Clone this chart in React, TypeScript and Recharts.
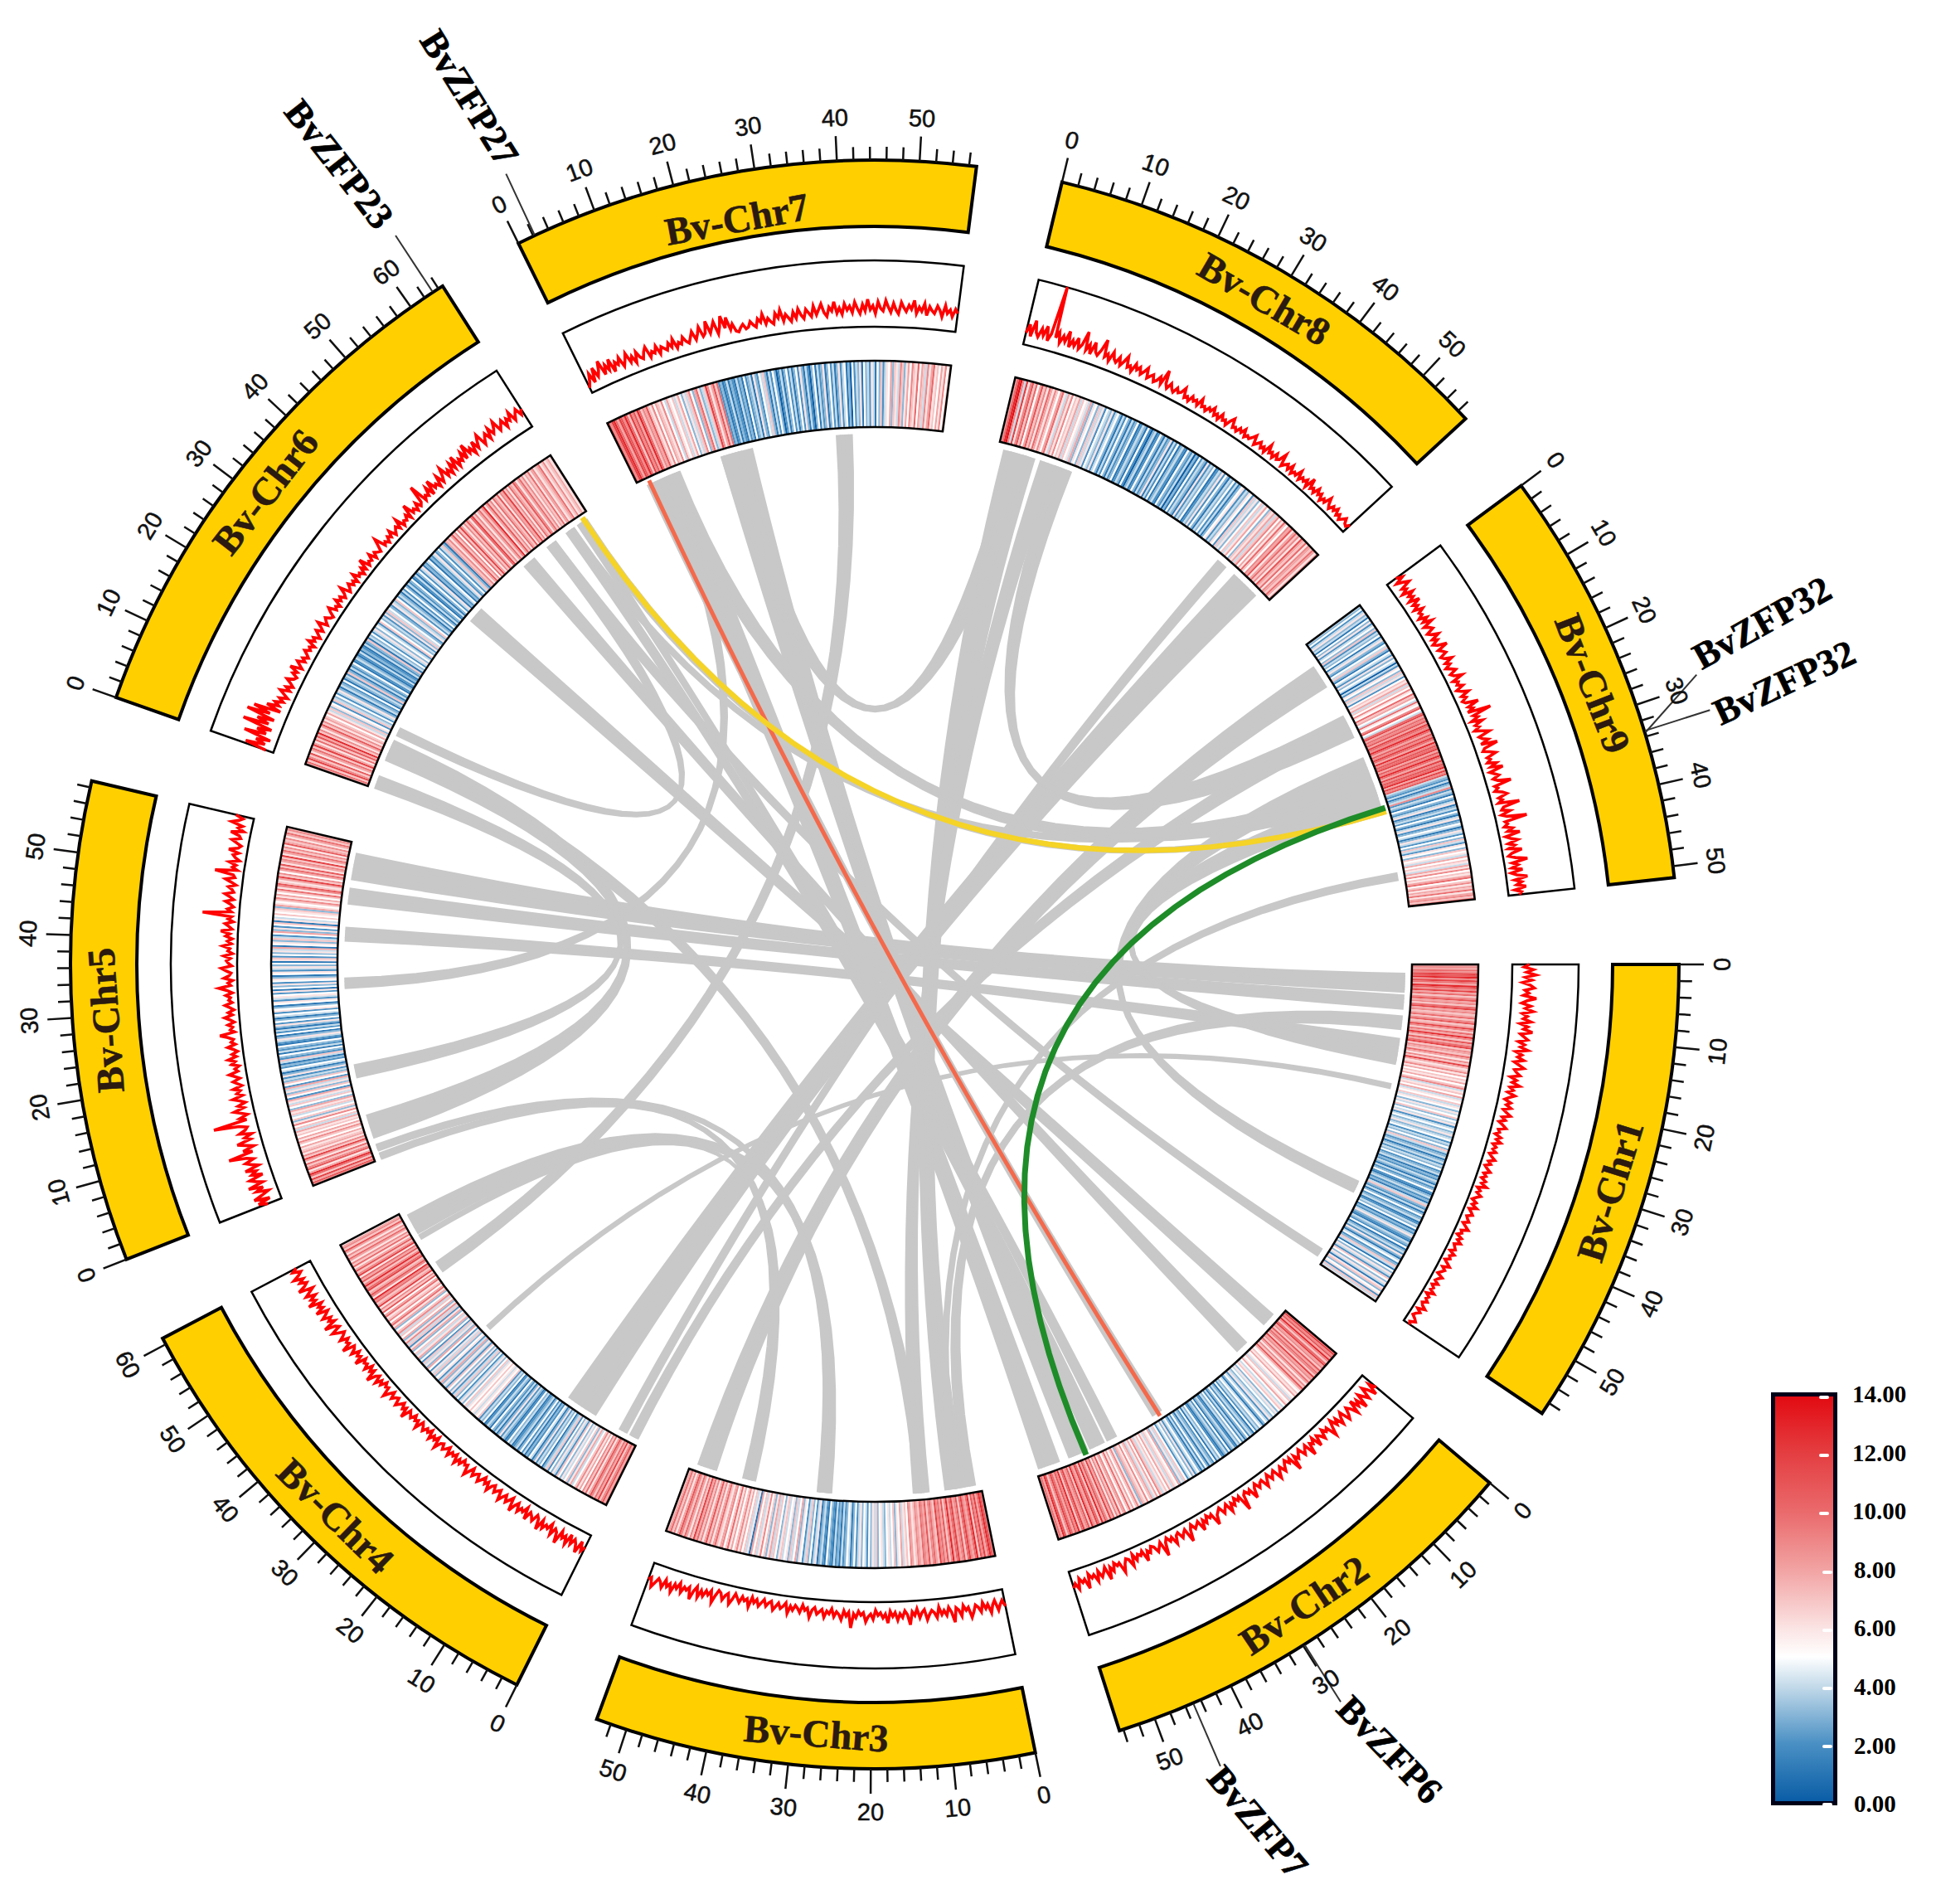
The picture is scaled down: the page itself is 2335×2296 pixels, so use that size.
import React from 'react'
import { PieChart, Pie, Cell, ComposedChart, Line, Scatter, XAxis, YAxis } from 'recharts'

// Circos plot of the beet genome: ideogram, density line, heat ring, links.
const W = 2335
const H = 2296
const CX = 1055
const CY = 1163

const chromNames = ['Bv-Chr1', 'Bv-Chr2', 'Bv-Chr3', 'Bv-Chr4', 'Bv-Chr5', 'Bv-Chr6', 'Bv-Chr7', 'Bv-Chr8', 'Bv-Chr9']
const chromLengths = [57.5, 54.5, 53.8, 60.8, 58.8, 64.6, 56.9, 57.3, 51.4]
const gapMb = 10.5

const heat1 = [8,9,8,10,9,12,11,13,9,12,10,8,13,11,9,12,8,10,7,9,11,8,9,7,10,12,8,9,7,8,10,7,9,11,7,8,12,9,7,10,8,13,9,7,11,8,10,12,7,9,8,7,10,8,6,9,7,12,8,6,7,9,6,8,5,7,6,8,5,7,9,4,6,7,5,8,4,6,5,7,4,6,5,3,6,4,5,7,3,5,4,6,2,4,5,3,4,6,3,4,5,2,4,3,5,3,7,4,2,3,4,1,3,4,2,4,3,5,2,3,4,1,3,2,4,3,1,4,2,3,5,2,1,3,4,2,3,1,4,7,3,2,4,1,3,5,2,3,4,1,2,4,3,5,1,3,2,4,6,3,2,1,4,3,2,5,1,3,4,2,6,3,1,4,5,2,3,7,4,1,5,3,6,4,2,7,5,3,6,4,1,6,7,3,5,6,2,7,4,6]
const heat2 = [10,12,9,11,8,13,9,7,10,12,8,9,7,11,8,10,9,7,12,8,9,7,10,8,6,9,7,11,8,6,5,7,6,8,5,6,4,7,5,6,8,5,4,6,7,5,3,6,4,5,3,4,6,2,4,5,3,1,4,5,3,4,2,5,1,3,4,2,5,3,1,4,2,5,3,4,1,2,4,3,1,5,2,4,3,1,2,5,3,4,1,5,2,3,4,1,3,5,2,4,1,3,5,4,2,6,3,5,4,2,5,7,4,6,3,8,5,6,7,4,6,8,5,7,6,4,7,9,5,8,6,4,8,7,5,9,6,7,8,3,6,9,7,5,8,6,10,7,5,9,8,6,11,7,9,6,10,8,12,7,9,11,8,13,7,10,12,8,9,13,7,11,9,8,12,10,7,13,9,11,8,10,12,9,7,11,13,8,10,9]
const heat3 = [9,11,13,10,8,12,9,11,7,13,10,8,9,12,10,7,11,9,8,12,10,8,13,9,7,11,8,10,9,12,7,8,10,9,7,11,8,9,10,7,8,9,7,6,8,9,5,7,6,4,8,5,6,3,7,5,4,6,5,3,4,6,5,3,7,4,6,3,5,2,4,5,3,6,4,2,5,3,1,4,5,3,2,4,1,3,2,4,1,2,3,5,1,2,4,3,1,6,4,2,5,3,7,4,2,5,6,3,8,5,4,7,3,6,5,4,7,6,3,5,7,4,8,6,3,7,5,9,6,4,7,5,8,1,6,4,7,5,8,6,9,7,5,8,6,10,7,5,9,8,6,7,10,8,6,9,7,11,8,6,9,7,10,8,12,7,9,6,8,10,7,9,11,8,6,9,7,10,8,7]
const heat4 = [10,8,11,9,7,12,8,10,7,9,11,8,6,10,7,9,5,8,6,9,7,5,4,8,6,3,7,5,4,6,3,5,7,2,4,6,3,5,2,7,4,3,1,5,3,4,2,6,3,1,4,5,2,3,1,4,2,5,3,1,4,3,2,1,4,3,5,2,1,3,4,2,6,3,1,4,2,3,5,1,3,4,2,1,5,3,4,2,7,5,6,4,6,5,7,5,6,4,7,5,3,6,4,2,5,3,7,4,2,6,3,5,7,2,4,6,3,8,4,2,6,5,3,7,4,6,2,5,8,3,6,4,7,2,5,3,8,6,4,7,5,3,8,6,2,7,4,9,6,3,8,5,7,4,9,7,5,3,8,6,10,8,5,9,7,6,10,8,5,11,7,9,6,12,8,7,10,9,13,6,9,11,8,7,12,10,8,13,9,7,11,8,10,6,12,9,7,11,8,6,10,7,9,6,8,10,7,9,6,8,11,7,9,8,6]
const heat5 = [9,11,8,12,7,10,13,8,6,11,9,7,10,6,8,12,7,9,6,8,7,6,8,5,7,9,6,8,5,7,6,8,4,7,5,9,6,3,7,5,4,7,6,8,3,5,7,4,6,8,2,5,7,3,6,4,8,2,5,7,3,4,2,6,3,1,4,5,2,3,1,4,7,2,3,5,1,4,2,3,5,1,2,4,6,3,1,5,2,4,1,3,6,2,5,3,1,4,5,2,6,5,3,1,5,6,2,4,6,5,2,6,1,5,3,6,2,5,6,3,1,5,6,2,4,6,3,5,1,6,7,2,5,3,6,4,8,1,5,6,3,7,4,2,5,8,3,6,2,5,7,1,6,4,5,7,5,6,7,3,8,6,5,7,9,6,8,5,7,10,6,9,11,7,6,8,12,7,9,5,8,10,7,11,6,8,9,7,12,6,8,10,7,9,6,11,8,7,9,6,8,10,7,9,8]
const heat6 = [8,10,7,12,9,7,11,6,8,10,7,12,8,6,10,7,11,8,13,7,9,6,8,11,7,9,6,8,7,5,8,6,4,7,3,6,5,2,7,4,3,5,2,4,6,3,1,4,3,2,5,1,3,4,2,7,3,1,4,2,3,5,1,2,4,3,1,2,4,1,3,2,1,4,2,3,7,1,4,3,5,2,4,6,3,5,4,2,7,5,3,4,2,6,3,7,4,5,3,2,6,4,3,7,5,2,4,3,1,4,2,5,3,1,4,2,3,5,1,2,4,1,3,5,2,4,6,1,3,2,4,5,1,3,2,4,6,2,3,5,2,4,7,3,1,8,7,9,6,8,11,7,9,5,10,7,12,8,6,9,7,11,8,6,10,12,7,9,6,8,10,7,9,13,6,8,11,7,9,6,10,8,7,11,6,9,8,12,7,9,6,10,8,7,11,9,6,8,10,7,9,6,8,7,10,6,8,9,6,7,8,10,6,7,9,6,7,8,6,7]
const heat7 = [11,9,12,13,10,8,12,11,9,13,10,7,12,9,11,8,13,10,7,9,8,11,7,6,9,5,8,7,6,9,5,4,8,6,5,7,4,6,8,5,3,6,4,7,9,5,3,8,10,6,3,4,7,12,9,6,8,11,7,10,2,3,1,2,4,1,3,2,1,4,2,3,1,5,2,3,4,1,6,3,2,5,4,7,3,1,4,2,5,3,0,2,4,1,3,5,2,4,1,3,5,2,6,3,1,4,2,0,3,5,1,4,2,3,6,1,3,5,2,4,1,3,6,2,4,5,1,3,0,5,2,4,3,6,1,5,3,4,2,6,4,1,5,3,7,2,4,6,5,8,3,7,6,4,9,7,3,6,8,5,9,7,6,10,5,8,7,4,9,6,8,10,6,7,5,8,6,9,5,7]
const heat8 = [8,10,13,14,9,4,12,6,9,11,7,10,5,8,11,7,9,6,10,8,6,9,7,5,8,10,6,4,8,6,9,5,7,6,8,4,7,5,6,4,8,3,6,5,3,7,4,6,2,5,4,3,6,2,4,5,3,1,4,2,5,3,1,4,2,3,5,1,2,4,3,1,5,2,0,3,4,1,2,5,3,1,4,2,3,6,1,4,2,5,1,3,4,2,1,5,3,2,4,0,3,1,5,2,4,3,1,6,2,4,3,5,1,2,4,3,6,2,5,3,1,4,3,5,2,4,1,3,5,6,2,4,3,6,5,2,7,4,6,3,5,7,4,6,8,5,3,7,6,8,4,7,9,5,8,6,10,7,5,9,8,11,6,8,10,7,9,6,11,8,7,10,6,9,8,7,10,8,6,9]
const heat9 = [4,3,5,2,4,6,3,4,1,5,3,6,2,4,5,3,7,2,4,3,5,1,4,6,3,2,5,4,7,3,1,5,4,2,6,3,5,4,0,4,2,6,5,3,7,4,6,2,5,7,6,8,4,7,5,9,6,5,10,7,8,5,4,10,6,5,9,11,5,4,10,12,8,10,9,11,8,12,10,9,13,10,8,11,9,12,10,8,13,9,11,10,12,8,11,9,13,10,8,12,9,11,10,13,8,12,9,11,4,3,2,4,1,3,4,9,2,4,3,1,5,3,2,4,6,1,3,4,2,5,3,1,4,6,2,3,5,4,1,3,6,4,2,5,3,7,4,2,6,5,3,7,5,6,4,8,5,7,6,4,8,6,9,5,7,6,8,10,5,7,9,6,8,7,10,6,8,9,7,10]
const heatValues = [heat1, heat2, heat3, heat4, heat5, heat6, heat7, heat8, heat9]

const dens1 = [24,16,30,20,34,18,28,14,26,32,18,24,16,36,22,14,28,20,32,16,24,18,30,14,26,20,34,16,22,28,14,24,18,30,12,22,16,26,12,20,28,14,18,24,10,20,14,26,12,18,10,22,14,8,18,12,20,9,15,22,10,16,7,14,20,9,12,6,16,10,18,7,13,9,15,6,11,17,8,13,5,10,16,7,12,6,14,9,18,5,11,7,15,9,4,12,7,16,5,10,14,6,9,13,5,11,17,7,10,4,13,8,15,6,9,12,5,14,8,11,4,10,16,6,12,8,4,14,9,6,13,5,10,7,15,4,11,8,13,6,9,16,5,12,7,4,10,14,6,9]
const dens2 = [26,14,32,18,10,28,20,12,34,16,24,10,30,18,12,22,28,10,16,26,12,20,8,18,30,12,16,9,22,14,10,26,8,16,12,30,9,14,20,7,12,18,10,32,8,14,6,12,20,9,15,24,7,11,17,6,13,22,8,10,16,6,12,26,9,14,7,11,34,8,13,6,16,10,22,7,12,18,6,10,14,28,8,12,6,16,9,24,7,11,15,6,13,30,8,12,18,7,10,22,9,14,6,12,32,8,14,20,10,7,16,11,26,8,14,10,18,7,24,12,9,16,28,11,14,8,20,12,30,9,16,22,11,26,14,18,10,32,16,20,12,28,18,24]
const dens3 = [24,14,20,28,12,18,30,16,22,12,26,18,14,24,32,16,20,12,28,18,14,36,20,12,24,16,22,10,26,18,14,20,28,12,16,24,10,20,14,34,18,12,22,16,26,14,20,12,30,16,22,14,18,10,24,16,20,28,14,18,12,22,16,38,14,20,12,26,18,14,22,10,18,14,24,12,16,20,10,14,26,12,16,8,20,14,10,18,12,24,8,14,18,10,16,22,9,12,18,8,14,20,10,16,8,24,12,16,10,20,14,8,18,26,10,14,22,12,9,18,30,12,20,14,24,16,28,12,20,34,16,22,18,28,14,24,18,32,20,26,16,30,22,18,26,34,20,24]
const dens4 = [18,26,12,32,20,14,24,10,28,16,22,12,34,18,14,26,10,20,16,24,12,30,14,10,22,16,12,26,8,18,14,22,10,16,28,8,14,20,10,16,24,9,13,18,8,12,22,10,16,7,14,20,9,12,18,7,15,24,9,12,6,16,10,20,7,13,9,18,6,12,16,8,11,22,6,14,9,18,5,12,8,16,10,6,20,9,13,6,15,11,7,24,9,14,6,12,18,7,10,16,6,13,22,8,11,5,15,9,19,7,12,26,8,14,6,18,10,13,7,24,11,15,8,20,12,9,28,13,16,10,22,14,9,18,26,11,16,32,12,20,14,26,18,12,30,16,22,14,34,20,26,16,30,22,14,36,24,18,28,20,34,24,18,30,22]
const dens5 = [20,34,14,38,24,12,30,18,40,16,26,34,12,28,20,36,14,24,32,18,28,55,16,30,12,24,36,14,22,10,28,18,14,26,65,12,22,9,18,28,12,20,8,16,26,10,18,12,22,8,14,20,9,16,24,10,14,7,18,12,22,9,15,6,12,20,8,14,10,18,30,7,13,9,16,6,12,20,8,14,5,11,18,7,12,9,16,6,14,26,8,12,5,18,10,7,15,22,6,11,14,8,18,5,12,9,20,7,13,6,16,10,24,7,12,18,6,14,9,54,10,16,7,12,20,8,14,22,9,12,18,7,15,24,10,13,42,8,16,11,22,7,14,18,10,26,12,8,16,24,11,14,28,9,18,12,30,20,14,26]
const dens6 = [10,44,14,30,8,52,18,34,12,60,20,40,14,60,24,52,10,34,16,24,12,20,8,16,24,10,18,8,14,22,12,9,18,12,26,8,14,20,9,15,7,12,18,10,14,7,20,11,16,6,12,18,8,14,22,7,12,16,9,6,14,20,8,12,6,18,10,15,7,12,22,6,10,16,8,13,6,19,9,12,5,15,8,24,7,12,9,18,6,14,10,7,16,26,8,12,6,14,9,18,6,11,15,8,22,6,12,9,16,7,28,10,14,7,18,9,13,40,10,16,12,24,8,30,14,18,10,26,12,20,32,14,22,12,28,16,34,14,24,18,30,16,38,20,26,14,32,18,28,36,16,24,30,18,34,22,28,38,20,26,32,18,30,24,36,20,28,34,22,30]
const dens7 = [6,14,26,10,32,16,24,38,14,28,18,34,12,26,20,30,14,22,32,16,24,12,28,18,14,24,30,12,20,16,26,12,22,18,14,24,16,28,12,20,16,26,18,14,22,30,16,24,34,18,22,40,20,28,36,16,26,42,22,38,18,26,14,12,18,22,14,16,24,18,14,26,20,32,16,24,18,14,30,22,34,16,26,20,14,28,18,32,22,16,30,24,18,34,20,28,36,22,16,30,24,38,20,28,18,34,24,30,20,36,26,18,32,22,40,24,30,18,36,26,22,38,28,20,34,24,18,36,28,22,32,26,40,20,30,24,36,18,32,26,22,34,28,18,36,24,30,20,32,26]
const dens8 = [16,30,12,38,20,14,28,18,34,12,24,100,20,30,14,26,18,36,12,24,16,30,14,22,44,16,26,12,32,18,14,24,42,16,22,12,28,18,14,24,12,20,30,14,18,10,24,16,22,12,18,26,11,16,20,10,14,22,12,36,16,10,20,13,9,18,12,15,24,10,14,8,18,12,16,9,22,11,14,8,16,12,20,9,14,7,18,10,13,6,16,22,9,12,7,15,10,18,7,12,9,14,20,6,11,16,8,13,6,22,10,14,7,17,9,12,24,6,11,15,8,18,6,12,9,20,7,14,10,16,6,24,9,13,7,18,10,15,5,12,8,20,11,6,14,9,16,7,12,5,10,15,8,6,12]
const dens9 = [14,24,10,20,28,12,18,8,24,14,20,10,26,12,18,9,22,13,16,8,20,11,24,8,15,19,7,12,22,9,16,6,12,26,9,14,18,7,11,22,9,15,6,13,19,8,12,24,7,14,10,18,6,12,22,9,15,7,11,30,12,18,8,44,14,20,8,24,11,16,7,18,28,10,14,22,9,34,12,8,18,26,11,15,9,22,12,30,8,14,20,10,16,36,9,13,7,18,24,10,15,8,40,14,10,22,8,16,46,11,14,8,20,12,30,7,14,24,9,18,8,28,12,6,16,34,10,18,8,24,6,14,30,10,20,12,26,8,18,14]
const densValues = [dens1, dens2, dens3, dens4, dens5, dens6, dens7, dens8, dens9]

// chrA, startA, endA, chrB, startB, endB (Mb)
const greyLinks = [
  [1, 1.7, 5, 5, 52, 57],
  [1, 5.6, 8.2, 5, 47.5, 50.5],
  [1, 9.4, 12, 3, 1, 3],
  [1, 13.6, 16, 5, 40.7, 43.3],
  [1, 16, 18.3, 9, 29, 33],
  [1, 22, 23, 4, 34, 35],
  [1, 41, 43, 9, 23, 27],
  [1, 55, 56.5, 6, 55, 57],
  [2, 2, 4.5, 6, 35.5, 38.5],
  [2, 9, 11.5, 6, 49.5, 52],
  [2, 38.5, 40.5, 6, 62, 63],
  [2, 41, 44, 6, 59.5, 61],
  [2, 50, 54, 7, 3, 8],
  [2, 44.5, 48, 7, 16, 22],
  [2, 29, 31, 7, 1.5, 3.5],
  [3, 3, 6.5, 8, 1, 7],
  [3, 9.5, 12.5, 8, 8, 11],
  [3, 27.5, 30, 5, 1.7, 2.7],
  [3, 41.5, 44, 5, 0.1, 1],
  [3, 49, 52.5, 9, 4, 8.5],
  [3, 10, 12, 6, 6, 9],
  [3, 4, 5, 9, 45, 46.5],
  [3, 27.5, 30, 4, 56, 60],
  [3, 42, 43, 4, 54.8, 55.8],
  [4, 9, 15, 8, 49.5, 55],
  [4, 2.5, 4, 8, 45.5, 47.5],
  [4, 0.3, 1.7, 9, 15, 18],
  [4, 47.8, 49.8, 7, 37.5, 40.5],
  [5, 32, 34, 7, 4, 6],
  [5, 4, 8.5, 6, 5.5, 9.5],
  [5, 15.5, 18, 6, 0, 2.5],
  [6, 10.5, 12, 6, 55, 57],
  [6, 60, 61, 9, 28, 30],
  [6, 62.5, 64, 9, 33, 34],
  [7, 5, 8, 9, 27, 31],
  [7, 16, 20, 8, 2, 6],
  [8, 11, 14, 9, 14.5, 19],
]

// chrA, posA, chrB, posB, colour, width
const colorLinks: [number, number, number, number, string, number][] = [
  [7, 2.2, 2, 29.8, '#f4694b', 5],
  [6, 63.4, 9, 33.7, '#f5d327', 6.5],
  [2, 45, 9, 33, '#1e8c28', 7],
]

// label, chr, Mb at the ideogram, Mb at leader end, leader end radius, label x/y in page px, rotation
const geneLabels: [string, number, number, number, number, number, number, number][] = [
  ['BvZFP23', 6, 63.2, 63.2, 1052, 409, 198, 52],
  ['BvZFP27', 7, 2.2, 2.2, 1052, 566, 118, 58],
  ['BvZFP32', 9, 33.5, 29, 1051, 2125, 751, -29],
  ['BvZFP32', 9, 33.3, 33.2, 1053, 2152, 823, -25],
  ['BvZFP6', 2, 29.8, 29.8, 1052, 1676, 2110, 46],
  ['BvZFP7', 2, 45, 45, 1053, 1517, 2197, 50],
]

// where each ideogram name sits along its chromosome, and at what radius
const chromLabelMb = [29, 27.2, 26.9, 30.4, 29.4, 31.2, 26.8, 28.6, 25.7]
const chromLabelR = [928, 930, 930, 930, 930, 930, 914, 930, 930]

const legendLabels = ['14.00', '12.00', '10.00', '8.00', '6.00', '4.00', '2.00', '0.00']
const colorStops: [number, string][] = [
  [0, '#0a5da6'], [2, '#4a90c4'], [4, '#c5dbea'], [5, '#ffffff'], [6, '#fbe3e3'],
  [8, '#f2a3a3'], [10, '#ea6a6c'], [12, '#e43f42'], [14, '#e20b12'],
]

const hexToRgb = (h: string) => [1, 3, 5].map((i) => parseInt(h.slice(i, i + 2), 16))

function heatColor(v: number) {
  for (let i = 1; i < colorStops.length; i++) {
    const [v0, c0] = colorStops[i - 1]
    const [v1, c1] = colorStops[i]
    if (v <= v1) {
      const t = (v - v0) / (v1 - v0)
      const a = hexToRgb(c0)
      const b = hexToRgb(c1)
      return `rgb(${a.map((x, k) => Math.round(x + (b[k] - x) * t)).join(',')})`
    }
  }
  return colorStops[colorStops.length - 1][1]
}

const totalMb = chromLengths.reduce((s, v) => s + v + gapMb, 0)
const chromOffset = chromLengths.map((_, i) => chromLengths.slice(0, i).reduce((s, v) => s + v + gapMb, 0))
const angleOf = (chr: number, mb: number) => ((chromOffset[chr - 1] + mb) * 360) / totalMb
const polar = (chr: number, mb: number, r: number) => {
  const a = (angleOf(chr, mb) * Math.PI) / 180
  return { x: r * Math.cos(a), y: -r * Math.sin(a) }
}

// ring rows: one chromosome slice then one empty gap slice
const ringRows = chromLengths.flatMap((len, i) => [
  { name: chromNames[i], value: len, isGap: false },
  { name: `gap${i}`, value: gapMb, isGap: true },
])
const heatRows = chromLengths.flatMap((len, i) => [
  ...heatValues[i].map((v, k) => ({ name: `${i}-${k}`, value: len / heatValues[i].length, color: heatColor(v) })),
  { name: `gap${i}`, value: gapMb, color: 'none' },
])

const LINK_R = 640
const bezier = (a: { x: number; y: number }, b: { x: number; y: number }) => {
  const pts = []
  for (let i = 0; i <= 28; i++) {
    const t = i / 28
    const k = (1 - t) * (1 - t)
    const m = t * t
    pts.push({ x: k * a.x + m * b.x, y: k * a.y + m * b.y })
  }
  return pts
}

const MB_PX = (LINK_R * 0.59 * Math.PI) / 180
const greyStrands = greyLinks.flatMap((row, idx) => {
  const [ca, a1, a2, cb, b1, b2] = row
  const wide = Math.max(a2 - a1, b2 - b1) * MB_PX
  const n = Math.max(1, Math.ceil(wide / 5))
  const strands = []
  for (let j = 0; j < n; j++) {
    const t = (j + 0.5) / n
    strands.push({
      key: `l${idx}-${j}`,
      width: wide / n + 0.8,
      pts: bezier(polar(ca, a1 + (a2 - a1) * t, LINK_R), polar(cb, b2 - (b2 - b1) * t, LINK_R)),
    })
  }
  return strands
})

const majorTicks: any[] = []
const minorTicks: any[] = []
const tickLabels: any[] = []
chromLengths.forEach((len, i) => {
  const chr = i + 1
  for (let mb = 0; mb <= len; mb += 2) {
    const major = mb % 10 === 0
    const list = major ? majorTicks : minorTicks
    list.push(polar(chr, mb, 970), polar(chr, mb, major ? 1000 : 986), { x: null, y: null })
    if (major) {
      const theta = angleOf(chr, mb)
      const flip = chr >= 5
      tickLabels.push({ ...polar(chr, mb, 1022), text: String(mb), rot: flip ? theta + 90 : theta - 90 })
    }
  }
})

const chromLabels = chromNames.map((name, i) => {
  const theta = angleOf(i + 1, chromLabelMb[i])
  return { ...polar(i + 1, chromLabelMb[i], chromLabelR[i]), text: name, rot: i >= 4 ? theta + 90 : theta - 90 }
})

const pageXY = (px: number, py: number) => ({ x: px - CX, y: CY - py })

const TickText = (p: any) => (
  <text
    x={p.cx}
    y={p.cy}
    transform={`rotate(${p.payload.rot} ${p.cx} ${p.cy})`}
    textAnchor="middle"
    dominantBaseline="central"
    fontFamily="Liberation Sans"
    fontSize={29}
    fill="#111"
    stroke="#111"
    strokeWidth={0.5}
  >
    {p.payload.text}
  </text>
)

const SerifText = (p: any) => (
  <text
    x={p.cx}
    y={p.cy}
    transform={`rotate(${p.payload.rot} ${p.cx} ${p.cy})`}
    textAnchor="middle"
    dominantBaseline="central"
    fontFamily="Liberation Serif"
    fontWeight="bold"
    fontSize={p.payload.size}
    fill={p.payload.color}
    stroke={p.payload.color}
    strokeWidth={0.6}
  >
    {p.payload.text}
  </text>
)

const serifRows = [
  ...chromLabels.map((c) => ({ ...c, size: 47, color: '#2a1a10' })),
  ...geneLabels.map(([text, , , , , px, py, rot]) => ({ ...pageXY(px, py), text, rot, size: 45, color: '#000' })),
]

const plainLine = { dot: false, activeDot: false, isAnimationActive: false, legendType: 'none' as const }

function Ring({ inner, outer, fill, strokeWidth }: { inner: number; outer: number; fill: string; strokeWidth: number }) {
  return (
    <Pie
      data={ringRows}
      dataKey="value"
      cx={CX}
      cy={CY}
      innerRadius={inner}
      outerRadius={outer}
      startAngle={0}
      endAngle={-360}
      isAnimationActive={false}
    >
      {ringRows.map((r) => (
        <Cell key={r.name} fill={r.isGap ? 'none' : fill} stroke={r.isGap ? 'none' : '#000'} strokeWidth={strokeWidth} />
      ))}
    </Pie>
  )
}

function ColorBar() {
  const gradient = colorStops.map(([v, c]) => `${c} ${100 - (v / 14) * 100}%`).reverse().join(',')
  return (
    <div style={{ position: 'absolute', left: 2136, top: 1679, width: 199, height: 520 }}>
      <div
        style={{
          position: 'absolute',
          left: 0,
          top: 0,
          width: 80,
          height: 498,
          boxSizing: 'border-box',
          border: '5px solid #000018',
          background: `linear-gradient(to bottom, ${gradient})`,
        }}
      />
      {legendLabels.map((t, i) => (
        <React.Fragment key={t}>
          <div
            style={{
              position: 'absolute',
              left: i < 3 ? 58 : 62,
              top: 4 + i * 70.2,
              width: 12,
              height: 4,
              borderRadius: 2,
              background: '#fff',
            }}
          />
          <div
            style={{
              position: 'absolute',
              left: i < 3 ? 98 : 100,
              top: i * 70.6 - 13,
              fontFamily: 'Liberation Serif',
              fontWeight: 'bold',
              fontSize: 29,
              lineHeight: '30px',
              color: '#000',
            }}
          >
            {t}
          </div>
        </React.Fragment>
      ))}
    </div>
  )
}

export default function App() {
  return (
    <div style={{ position: 'absolute', left: 0, top: 0, width: W, height: H, background: '#fff', overflow: 'hidden' }}>
      <div style={{ position: 'absolute', left: 0, top: 0 }}>
        <PieChart width={W} height={H} margin={{ top: 0, right: 0, bottom: 0, left: 0 }}>
          {Ring({ inner: 890, outer: 970, fill: '#ffcf00', strokeWidth: 4 })}
          {Ring({ inner: 769, outer: 849, fill: '#fff', strokeWidth: 2.5 })}
          <Pie
            data={heatRows}
            dataKey="value"
            cx={CX}
            cy={CY}
            innerRadius={648}
            outerRadius={728}
            startAngle={0}
            endAngle={-360}
            stroke="none"
            isAnimationActive={false}
          >
            {heatRows.map((r) => (
              <Cell key={r.name} fill={r.color} stroke="none" />
            ))}
          </Pie>
          {Ring({ inner: 648, outer: 728, fill: 'none', strokeWidth: 2.5 })}
        </PieChart>
      </div>
      <div style={{ position: 'absolute', left: 0, top: 0 }}>
        <ComposedChart width={W} height={H} margin={{ top: 0, right: 0, bottom: 0, left: 0 }}>
          <XAxis dataKey="x" type="number" domain={[-CX, W - CX]} allowDataOverflow hide />
          <YAxis dataKey="y" type="number" domain={[CY - H, CY]} allowDataOverflow hide />
          {greyStrands.map((s) => (
            <Line key={s.key} data={s.pts} dataKey="y" stroke="#c8c8c8" strokeWidth={s.width} {...plainLine} />
          ))}
          {colorLinks.map(([ca, pa, cb, pb, color, width]) => (
            <Line
              key={color}
              data={bezier(polar(ca, pa, LINK_R + 4), polar(cb, pb, LINK_R + 4))}
              dataKey="y"
              stroke={color}
              strokeWidth={width}
              {...plainLine}
            />
          ))}
          {densValues.map((vals, i) => (
            <Line
              key={`dens${i}`}
              data={vals.map((v, k) => polar(i + 1, (k / (vals.length - 1)) * chromLengths[i], 771 + v * 0.78))}
              dataKey="y"
              stroke="#ff0000"
              strokeWidth={3.6}
              {...plainLine}
            />
          ))}
          <Line data={majorTicks} dataKey="y" stroke="#111" strokeWidth={2.5} {...plainLine} />
          <Line data={minorTicks} dataKey="y" stroke="#111" strokeWidth={2.5} {...plainLine} />
          {geneLabels.map(([text, chr, mb, mbEnd, r], i) => (
            <Line
              key={`${text}-${i}`}
              data={[polar(chr, mb, 971), polar(chr, mbEnd, r)]}
              dataKey="y"
              stroke="#333"
              strokeWidth={2}
              {...plainLine}
            />
          ))}
          <Scatter data={tickLabels} shape={TickText} isAnimationActive={false} />
          <Scatter data={serifRows} shape={SerifText} isAnimationActive={false} />
        </ComposedChart>
      </div>
      <ColorBar />
    </div>
  )
}
